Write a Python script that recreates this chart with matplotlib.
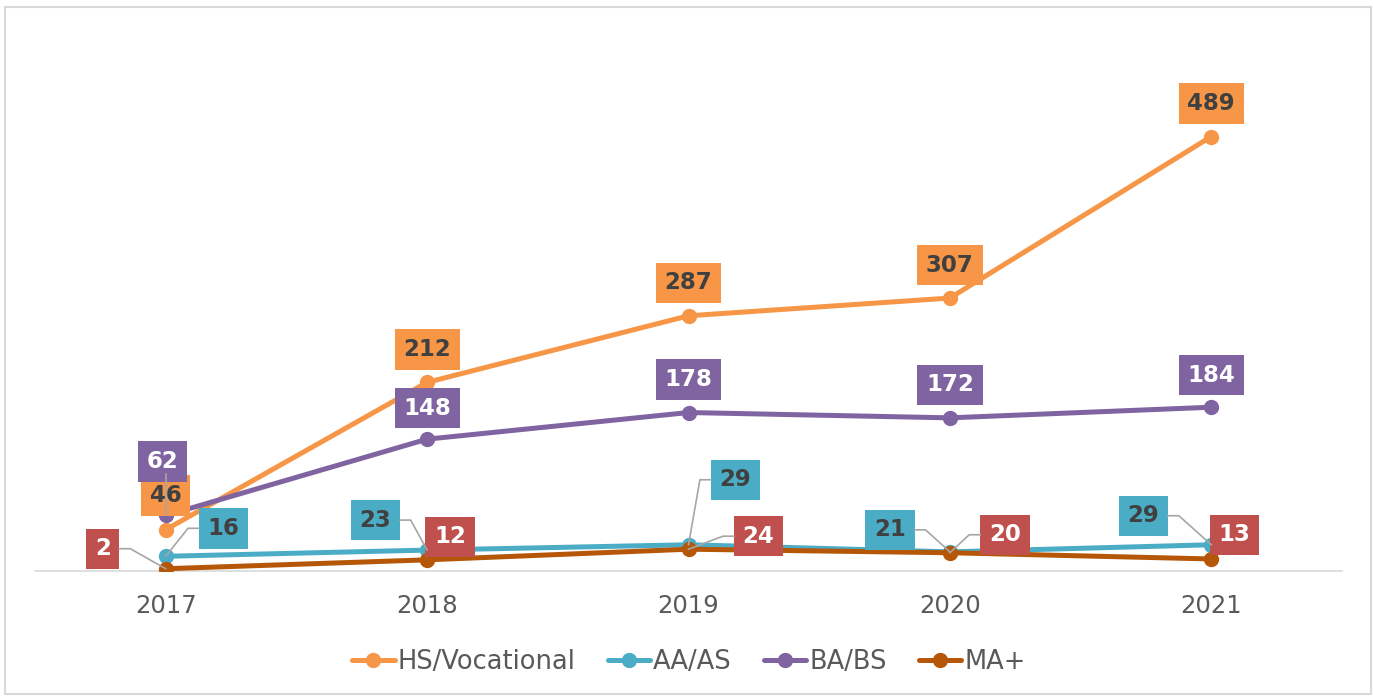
import matplotlib
matplotlib.use('Agg')
import matplotlib.pyplot as plt
from matplotlib.lines import Line2D
from matplotlib.patches import Rectangle
import numpy as np

# Data
years = ['2017', '2018', '2019', '2020', '2021']
hs_vocational = [46, 212, 287, 307, 489]
aa_as = [16, 23, 29, 21, 29]
ba_bs = [62, 148, 178, 172, 184]
ma_plus = [2, 12, 24, 20, 13]

names = ['HS/Vocational', 'AA/AS', 'BA/BS', 'MA+']
line_colors = ['#F79646', '#4BACC6', '#8064A2', '#B65708']
box_colors = ['#F79646', '#4BACC6', '#8064A2', '#C0504D']
text_colors = ['#404040', '#404040', '#FFFFFF', '#FFFFFF']

# label offsets (pixels, box centre relative to point; +y is up) and leader-line flag
offsets = [
    [(0, 34), (0, 33), (0, 33), (0, 33), (0, 33)],
    [(58, 28), (-52, 30), (47, 65), (-60, 22), (-68, 29)],
    [(-3, 54), (0, 31), (0, 33), (0, 33), (0, 32)],
    [(-63, 20), (23, 23), (70, 13), (55, 18), (23, 24)],
]
leaders = [
    [False] * 5,
    [True, True, True, True, True],
    [True, False, False, False, False],
    [True, False, True, True, False],
]

W, H = 1373, 698
fig = plt.figure(figsize=(W / 100, H / 100), dpi=100)
ax = fig.add_axes([35 / W, (H - 570.5) / H, 1307 / W, 532.5 / H])

x = np.arange(len(years))
series = [hs_vocational, aa_as, ba_bs, ma_plus]
for vals, name, col in zip(series, names, line_colors):
    ax.plot(x, vals, color=col, lw=3.6, marker='o', ms=10, label=name,
            solid_capstyle='round', zorder=3)

ax.set_xlim(-0.5, len(years) - 0.5)
ax.set_ylim(0, 600)
ax.set_xticks(x)
ax.set_xticklabels(years)
ax.tick_params(axis='x', length=0, pad=17, labelsize=17.5, labelcolor='#595959')
ax.set_yticks([])
for s in ['left', 'right', 'top']:
    ax.spines[s].set_visible(False)
ax.spines['bottom'].set_color('#D9D9D9')
ax.spines['bottom'].set_linewidth(1.2)

# data labels
labels = []
for si, vals in enumerate(series):
    for i, v in enumerate(vals):
        dx, dy = offsets[si][i]
        t = ax.annotate(str(v), (x[i], v), xytext=(dx * 0.72, dy * 0.72),
                        textcoords='offset points', ha='center', va='center',
                        fontsize=16.5, fontweight='bold', color=text_colors[si],
                        bbox=dict(boxstyle='square,pad=0.38', fc=box_colors[si], ec='none'),
                        zorder=5, annotation_clip=False)
        labels.append((si, i, v, t))

# leader lines drawn from the rendered boxes
fig.canvas.draw()
renderer = fig.canvas.get_renderer()
for si, i, v, t in labels:
    if not leaders[si][i]:
        continue
    bb = t.get_bbox_patch().get_window_extent(renderer)
    px, py = ax.transData.transform((x[i], v))
    cy = (bb.y0 + bb.y1) / 2
    if abs(bb.x0 + bb.x1 - 2 * px) < 20:
        # box straight above the point
        pts = [(px, py), (px, bb.y0 + 8)]
    elif (bb.x0 + bb.x1) / 2 > px:
        ex = bb.x0
        elbow = ex - 11
        if elbow < px:
            elbow = px + 8
        pts = [(px, py), (elbow, cy), (ex, cy)]
    else:
        ex = bb.x1
        elbow = ex + 11
        if elbow > px:
            elbow = px - 8
        pts = [(px, py), (elbow, cy), (ex, cy)]
    xs, ys = zip(*pts)
    fig.add_artist(Line2D(xs, ys, transform=None, color='#A6A6A6', lw=1.2, zorder=6))

leg = fig.legend(loc='center', bbox_to_anchor=(689 / W, 1 - 662 / H), ncol=4,
                 frameon=False, fontsize=18.5, handlelength=1.65, handletextpad=0.12,
                 columnspacing=1.25, labelcolor='#595959')

# chart border
fig.add_artist(Rectangle((5 / W, 4 / H), 1366 / W, 687 / H, transform=fig.transFigure,
                         fill=False, ec='#D9D9D9', lw=1.5))

fig.savefig('out.png', dpi=100)
